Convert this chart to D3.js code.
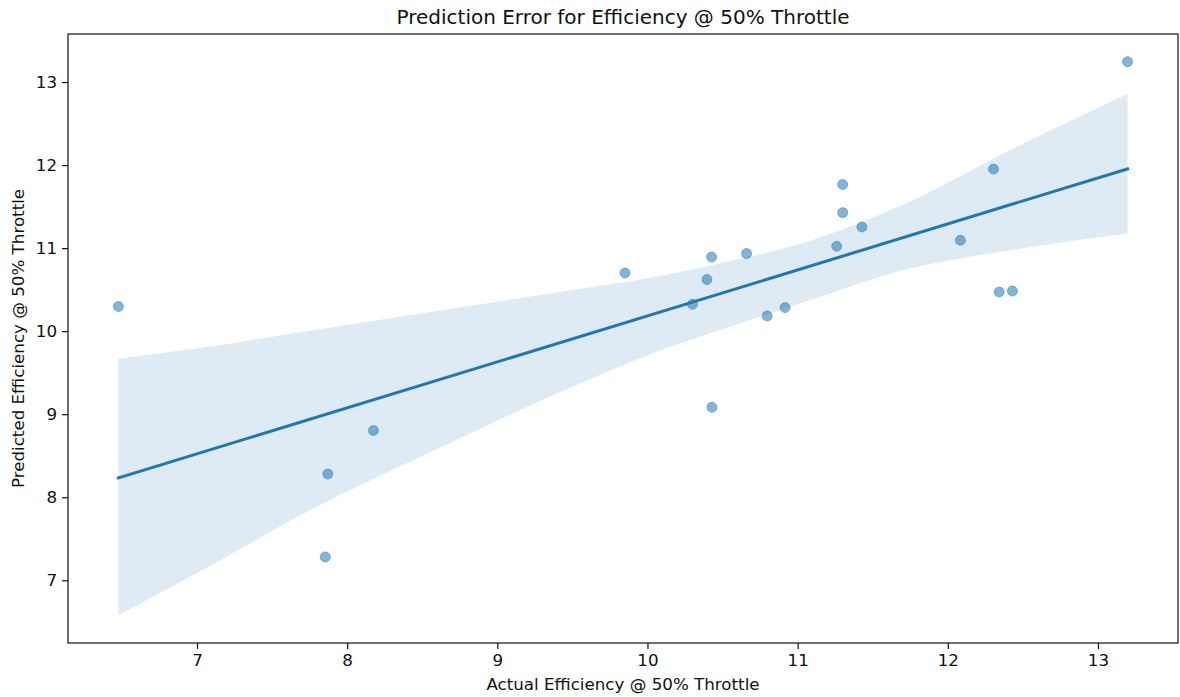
<!DOCTYPE html>
<html>
<head>
<meta charset="utf-8">
<script src="https://cdn.jsdelivr.net/npm/d3@7"></script>
<style>
  body { margin: 0; background: #fff; }
  svg { display: block; font-family: "DejaVu Sans", sans-serif; }
</style>
</head>
<body>
<div id="chart"></div>
<script>
// Actual vs predicted values
const actual = [6.477, 7.854, 7.871, 8.175, 9.850, 10.300, 10.396, 10.427, 10.429, 10.660,
  10.797, 10.916, 11.260, 11.300, 11.300, 11.428, 12.084, 12.304, 12.342, 12.430, 13.197];
const predicted = [10.296, 7.281, 8.280, 8.803, 10.700, 10.323, 10.621, 10.893, 9.083, 10.934,
  10.182, 10.284, 11.022, 11.427, 11.765, 11.254, 11.094, 11.952, 10.471, 10.483, 13.245];

// Confidence band edges
const bandX = [6.477, 7.063, 7.771, 8.481, 9.412, 10.075, 10.475, 11.096, 11.672, 12.470, 13.197];
const bandUpper = [9.669, 9.809, 10.010, 10.211, 10.471, 10.660, 10.813, 11.094, 11.500, 12.230, 12.860];
const bandLower = [6.578, 7.150, 7.860, 8.480, 9.260, 9.760, 10.010, 10.380, 10.720, 10.990, 11.175];

const xTicks = [7, 8, 9, 10, 11, 12, 13];
const yTicks = [7, 8, 9, 10, 11, 12, 13];

const titleText = "Prediction Error for Efficiency @ 50% Throttle";
const xLabel = "Actual Efficiency @ 50% Throttle";
const yLabel = "Predicted Efficiency @ 50% Throttle";

const W = 1180, H = 697;
const margin = { top: 34, right: 2, bottom: 54, left: 68 };
const width = W - margin.left - margin.right;
const height = H - margin.top - margin.bottom;
const blue = "#1f77b4";
const ink = "#111";

const svg = d3.select("#chart").append("svg")
  .attr("width", W).attr("height", H);
const g = svg.append("g").attr("transform", `translate(${margin.left},${margin.top})`);

// Ordinary least squares fit
const mx = d3.mean(actual), my = d3.mean(predicted);
const sxy = d3.sum(actual, (x, i) => (x - mx) * (predicted[i] - my));
const sxx = d3.sum(actual, (x) => (x - mx) ** 2);
const slope = sxy / sxx;
const intercept = my - slope * mx;

// Domains with matplotlib-style 5% padding
const [x0, x1] = d3.extent(actual);
const xPad = (x1 - x0) * 0.05;
const yMin = Math.min(d3.min(predicted), d3.min(bandLower));
const yMax = Math.max(d3.max(predicted), d3.max(bandUpper));
const yPad = (yMax - yMin) * 0.05;

const xScale = d3.scaleLinear().domain([x0 - xPad, x1 + xPad]).range([0, width]);
const yScale = d3.scaleLinear().domain([yMin - yPad, yMax + yPad]).range([height, 0]);

// Confidence band
const band = bandX.map((x, i) => ({ x, lo: bandLower[i], hi: bandUpper[i] }));
g.append("path")
  .datum(band)
  .attr("d", d3.area()
    .curve(d3.curveMonotoneX)
    .x((d) => xScale(d.x))
    .y0((d) => yScale(d.lo))
    .y1((d) => yScale(d.hi)))
  .attr("fill", blue)
  .attr("fill-opacity", 0.15)
  .attr("stroke", "none");

// Scatter points
g.selectAll("circle")
  .data(actual.map((x, i) => ({ x, y: predicted[i] })))
  .enter()
  .append("circle")
  .attr("cx", (d) => xScale(d.x))
  .attr("cy", (d) => yScale(d.y))
  .attr("r", 5)
  .attr("fill", blue)
  .attr("fill-opacity", 0.55)
  .attr("stroke", blue)
  .attr("stroke-opacity", 0.45)
  .attr("stroke-width", 1);

// Regression line
g.append("line")
  .attr("x1", xScale(x0)).attr("y1", yScale(intercept + slope * x0))
  .attr("x2", xScale(x1)).attr("y2", yScale(intercept + slope * x1))
  .attr("stroke", blue)
  .attr("stroke-width", 3)
  .attr("stroke-linecap", "square");

// Axes
const xAxis = g.append("g")
  .attr("transform", `translate(0,${height})`)
  .call(d3.axisBottom(xScale).tickValues(xTicks).tickFormat(d3.format("d"))
    .tickSize(6).tickSizeOuter(0).tickPadding(5));
const yAxis = g.append("g")
  .call(d3.axisLeft(yScale).tickValues(yTicks).tickFormat(d3.format("d"))
    .tickSize(6).tickSizeOuter(0).tickPadding(5));

[xAxis, yAxis].forEach((ax) => {
  ax.select(".domain").remove();
  ax.selectAll("line").attr("stroke", ink).attr("stroke-width", 1.2);
  ax.selectAll("text")
    .attr("font-family", "DejaVu Sans, sans-serif")
    .attr("font-size", 16.7)
    .attr("fill", ink);
});

// Frame (all four spines)
g.append("rect")
  .attr("x", 0).attr("y", 0)
  .attr("width", width).attr("height", height)
  .attr("fill", "none")
  .attr("stroke", ink)
  .attr("stroke-width", 1.2);

// Title and axis labels
svg.append("text")
  .attr("x", margin.left + width / 2)
  .attr("y", 24)
  .attr("text-anchor", "middle")
  .attr("font-size", 20)
  .attr("fill", ink)
  .text(titleText);

svg.append("text")
  .attr("x", margin.left + width / 2)
  .attr("y", 690)
  .attr("text-anchor", "middle")
  .attr("font-size", 16.7)
  .attr("fill", ink)
  .text(xLabel);

svg.append("text")
  .attr("transform", `translate(24,${margin.top + height / 2}) rotate(-90)`)
  .attr("text-anchor", "middle")
  .attr("font-size", 16.7)
  .attr("fill", ink)
  .text(yLabel);
</script>
</body>
</html>
